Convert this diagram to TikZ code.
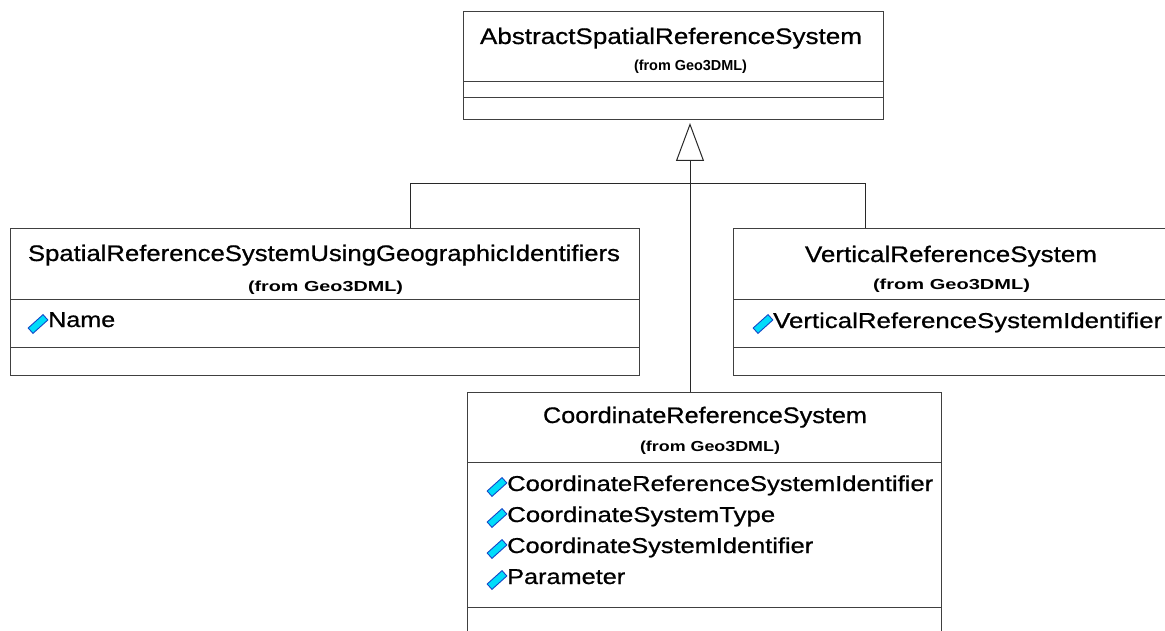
\documentclass[tikz,border=0pt]{standalone}
\usepackage{fontspec}
\setmainfont{Liberation Sans}
\newfontfamily\heavyfont[FakeBold=0.7]{Liberation Sans}
\usetikzlibrary{arrows.meta}
\definecolor{boxline}{RGB}{64,64,64}
\definecolor{linkline}{RGB}{40,40,40}
\definecolor{iconfill}{RGB}{0,220,250}
\definecolor{iconedge}{RGB}{20,70,200}
\newcommand\fitw[2]{\resizebox{#1pt}{\height}{#2}}
\begin{document}
\begin{tikzpicture}[x=1pt,y=-1pt,
  umlbox/.style={draw=boxline, line width=1pt, inner sep=0pt, anchor=north west},
  cname/.style={anchor=base, inner sep=0pt, font=\heavyfont\fontsize{22.5}{26}\selectfont},
  fromtxt/.style={anchor=base, inner sep=0pt, font=\fontsize{14.5}{17}\selectfont\bfseries},
  attr/.style={anchor=base west, inner sep=0pt, font=\heavyfont\fontsize{21.5}{25}\selectfont},
  link/.style={draw=linkline, line width=1pt},
  gen/.style={-{Triangle[open, length=38pt, width=28pt, line width=1pt]}},
  sepline/.style={draw=boxline, line width=1pt},
  icon/.pic={\filldraw[fill=iconfill, draw=iconedge, line width=0.9pt, rotate=42] (-10,-3.6) rectangle (10,3.6);}
]
\useasboundingbox (0,0) rectangle (1165,631);
\clip (0,0) rectangle (1165,631);
\fill[white] (0,0) rectangle (1165,631);

% boxes
\node[umlbox, minimum width=420pt, minimum height=108pt] (abs) at (463,11) {};
\node[umlbox, minimum width=629pt, minimum height=147pt] (left) at (10,228) {};
\node[umlbox, minimum width=436pt, minimum height=147pt] (right) at (733,228) {};
\node[umlbox, minimum width=474pt, minimum height=260pt] (crs) at (467,392) {};

% compartments
\draw[sepline] ([yshift=-71pt]abs.north west) -- ([yshift=-71pt]abs.north east);
\draw[sepline] ([yshift=-87pt]abs.north west) -- ([yshift=-87pt]abs.north east);
\draw[sepline] ([yshift=-71pt]left.north west) -- ([yshift=-71pt]left.north east);
\draw[sepline] ([yshift=-119pt]left.north west) -- ([yshift=-119pt]left.north east);
\draw[sepline] ([yshift=-71pt]right.north west) -- ([yshift=-71pt]right.north east);
\draw[sepline] ([yshift=-119pt]right.north west) -- ([yshift=-119pt]right.north east);
\draw[sepline] ([yshift=-70pt]crs.north west) -- ([yshift=-70pt]crs.north east);
\draw[sepline] ([yshift=-215pt]crs.north west) -- ([yshift=-215pt]crs.north east);

% texts
\node[cname] (absname) at (671,44) {\fitw{382}{AbstractSpatialReferenceSystem}};
\node[fromtxt] (absfrom) at (690.5,71) {\fitw{113}{(from Geo3DML)}};

\node[cname] (leftname) at (324,261) {\fitw{592}{SpatialReferenceSystemUsingGeographicIdentifiers}};
\node[fromtxt] (leftfrom) at (325.5,291) {\fitw{155}{(from Geo3DML)}};
\node[attr] (leftattr) at (48,327) {\fitw{67}{Name}};
\pic at (38,324) {icon};

\node[cname] (rightname) at (951,262) {\fitw{292}{VerticalReferenceSystem}};
\node[fromtxt] (rightfrom) at (951.5,290) {\fitw{157}{(from Geo3DML)}};
\node[attr] (rightattr) at (773,328) {\fitw{389}{VerticalReferenceSystemIdentifier}};
\pic at (763,324) {icon};

\node[cname] (crsname) at (705,423) {\fitw{324}{CoordinateReferenceSystem}};
\node[fromtxt] (crsfrom) at (710,451) {\fitw{140}{(from Geo3DML)}};
\node[attr] (crsa1) at (507,491) {\fitw{426}{CoordinateReferenceSystemIdentifier}};
\node[attr] (crsa2) at (507,522) {\fitw{268}{CoordinateSystemType}};
\node[attr] (crsa3) at (507,553) {\fitw{306}{CoordinateSystemIdentifier}};
\node[attr] (crsa4) at (507,584) {\fitw{118}{Parameter}};
\pic at (497,487) {icon};
\pic at (497,518) {icon};
\pic at (497,549) {icon};
\pic at (497,580) {icon};

% generalization connectors
\coordinate (join) at (690,184);
\coordinate (lx) at (410,0);
\coordinate (rx) at (865,0);
\draw[link] (left.north -| lx) |- (join);
\draw[link] (right.north -| rx) |- (join);
\draw[link, gen] (crs.north -| join) -- ([yshift=-3pt]abs.south -| join);
\end{tikzpicture}
\end{document}
